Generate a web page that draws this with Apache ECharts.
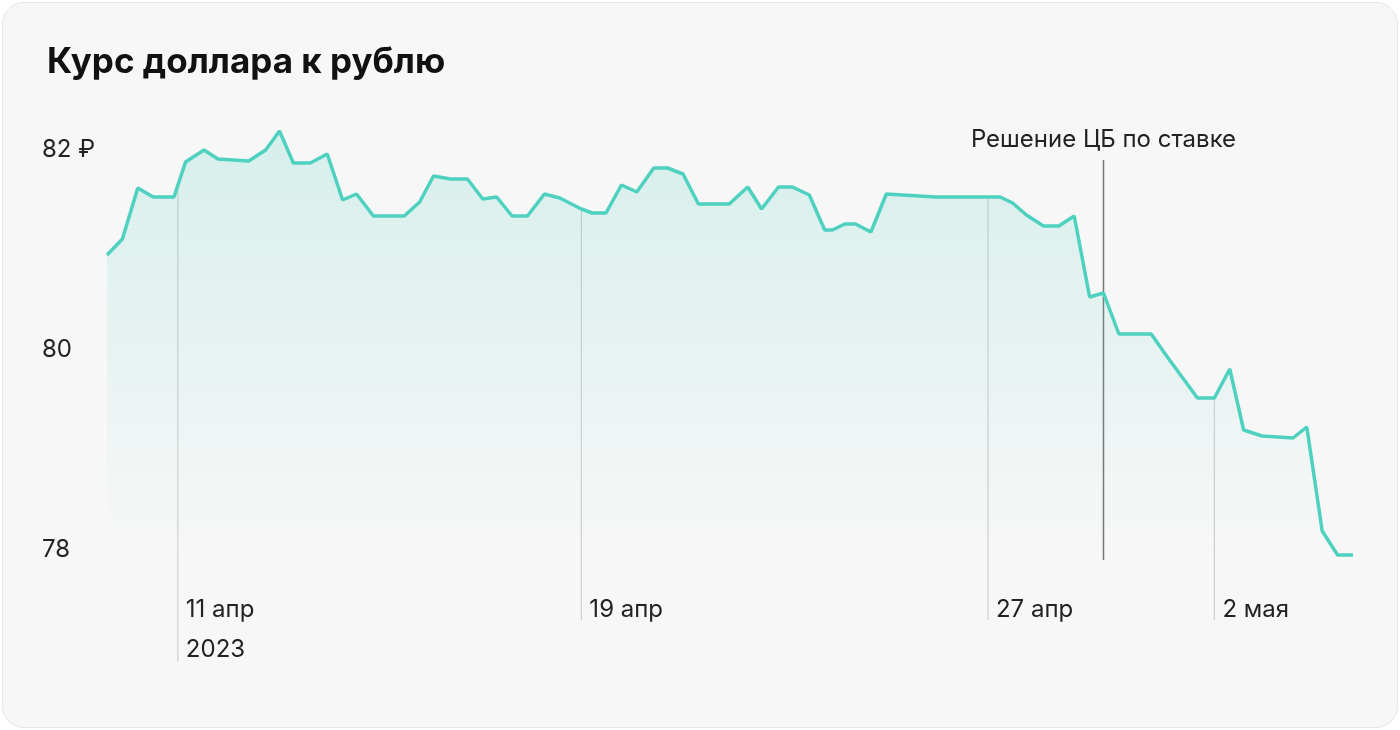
<!DOCTYPE html>
<html><head><meta charset="utf-8">
<script src="https://cdn.jsdelivr.net/npm/echarts@6/dist/echarts.min.js"></script>
<style>
html,body{margin:0;padding:0;background:#fff;}
#card{position:absolute;left:2px;top:2px;width:1394px;height:724px;background:#f7f7f7;border:1px solid #e6e6e6;border-radius:22px;}
#c{position:absolute;left:0;top:0;width:1400px;height:730px;}
</style></head><body>
<div id="card"></div><div id="c"></div>
<script>
const xs=[0,1,2,3,4.35,5.1,6.3,7.2,9.2,10.3,11.2,12.1,13.2,14.3,15.3,16.2,17.3,19.3,20.3,21.2,22.3,23.4,24.4,25.3,26.3,27.3,28.4,29.4,30.8,31.5,32.4,33.4,34.4,35.5,36.4,37.4,38.4,40.4,41.6,42.5,43.6,44.5,45.6,46.6,47.1,47.9,48.6,49.6,50.6,53.8,57.2,58,58.8,59.7,60.8,61.8,62.8,63.8,64.7,65.7,67.8,68.8,70.8,71.9,72.9,73.8,75,77,77.9,78.9,79.9,80.9];
const vals=[80.95,81.11,81.62,81.53,81.53,81.88,82.0,81.91,81.89,82.0,82.19,81.87,81.87,81.96,81.5,81.56,81.34,81.34,81.48,81.74,81.71,81.71,81.51,81.53,81.34,81.34,81.56,81.52,81.41,81.37,81.37,81.65,81.58,81.82,81.82,81.76,81.46,81.46,81.63,81.41,81.63,81.63,81.55,81.2,81.2,81.26,81.26,81.18,81.56,81.53,81.53,81.53,81.47,81.35,81.24,81.24,81.34,80.53,80.57,80.16,80.16,79.94,79.52,79.52,79.81,79.2,79.14,79.12,79.23,78.19,77.95,77.95];
const yTicks=[78,80,82];
const dateMarks=[{x:4.6,l1:'11 апр',l2:'2023'},{x:30.8,l1:'19 апр'},{x:57.2,l1:'27 апр'},{x:71.9,l1:'2 мая'}];
const decision={x:64.7,label:'Решение ЦБ по ставке'};
const chart=echarts.init(document.getElementById('c'));
const F='Inter, "Noto Sans", sans-serif';
chart.setOption({
 animation:false,
 title:{text:'Курс доллара к рублю',left:42,top:40,textStyle:{fontFamily:F,fontSize:35,fontWeight:'bold',color:'#111'}},
 grid:{left:107,right:47,top:100,bottom:180},
 xAxis:{type:'value',min:0,max:80.9,show:false},
 yAxis:{type:'value',min:78,max:82.5,interval:2,splitLine:{show:false},axisLine:{show:false},axisTick:{show:false},
  axisLabel:{showMaxLabel:false,margin:65,align:'left',fontFamily:F,fontSize:24,color:'#222',formatter:v=>yTicks.includes(v)?(v===82?v+' ₽':String(v)):''}},
 series:[{type:'line',data:xs.map((x,i)=>[x,vals[i]]),symbol:'none',clip:false,
  lineStyle:{color:'#4fd1c0',width:3.5},
  areaStyle:{origin:'start',color:new echarts.graphic.LinearGradient(0,0,0,1,[{offset:0,color:'rgba(79,209,192,0.28)'},{offset:0.85,color:'rgba(79,209,192,0.03)'},{offset:1,color:'rgba(79,209,192,0)'}])}}]
});
function valAt(x){for(let i=1;i<xs.length;i++){if(x<=xs[i]){const t=(x-xs[i-1])/(xs[i]-xs[i-1]);return vals[i-1]+t*(vals[i]-vals[i-1]);}}return vals[vals.length-1];}
const g=[];
dateMarks.forEach(d=>{const p=chart.convertToPixel({gridIndex:0},[d.x,valAt(d.x)]);
 const bottom=d.l2?662:620;
 g.push({type:'line',z:-1,shape:{x1:p[0],y1:p[1],x2:p[0],y2:bottom},style:{stroke:'#cfcfcf',lineWidth:1.2}});
 g.push({type:'text',x:p[0]+8,y:610,style:{text:d.l1,font:'24px '+F,fill:'#222',textVerticalAlign:'middle'}});
 if(d.l2)g.push({type:'text',x:p[0]+8,y:650,style:{text:d.l2,font:'24px '+F,fill:'#222',textVerticalAlign:'middle'}});
});
const dp=chart.convertToPixel({gridIndex:0},[decision.x,82]);
g.push({type:'line',shape:{x1:dp[0],y1:160,x2:dp[0],y2:560},style:{stroke:'#777',lineWidth:1.5}});
g.push({type:'text',x:dp[0],y:140,style:{text:decision.label,font:'24px '+F,fill:'#222',textAlign:'center',textVerticalAlign:'middle'}});
chart.setOption({graphic:g});
</script></body></html>
